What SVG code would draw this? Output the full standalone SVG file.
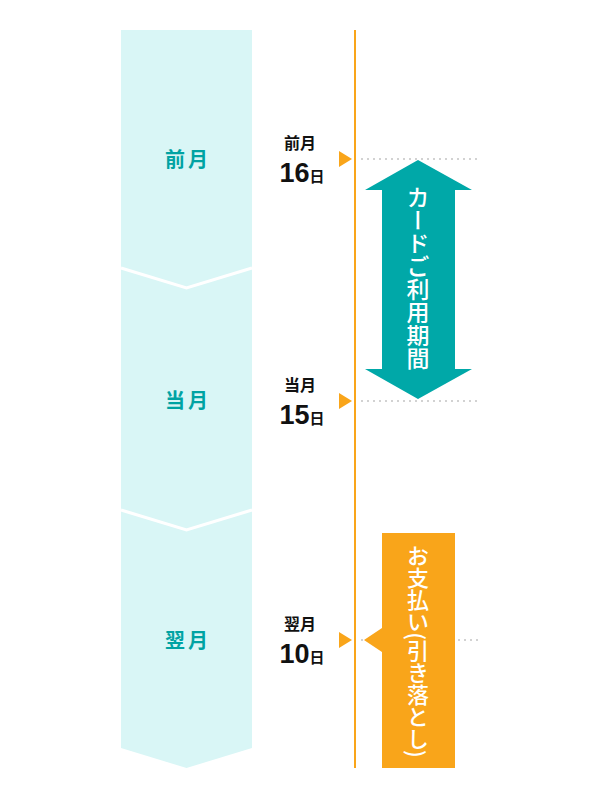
<svg xmlns="http://www.w3.org/2000/svg" width="596" height="799" viewBox="0 0 596 799">
<style>
.month{font-family:"Noto Sans CJK JP","Noto Sans",sans-serif;font-weight:700;font-size:20px;fill:#00a3a3;letter-spacing:3px}
.dl{font-family:"Noto Sans CJK JP","Noto Sans",sans-serif;font-weight:700;fill:#111}
.sm{font-size:15px}
.big{font-family:"Liberation Sans",Arial,sans-serif;font-size:27px}
.vt{font-family:"Noto Sans CJK JP","Noto Sans",sans-serif;font-weight:500;fill:#fff;writing-mode:vertical-rl}
.dot{stroke:#c4c4c4;stroke-width:1.5;stroke-dasharray:2 4;fill:none}
.tri{fill:#f9a51a}
</style>
<rect width="596" height="799" fill="#fff"/>
<g id="column">
<polygon points="121,30 252,30 252,748 186.5,768 121,748" fill="#d9f6f6"/>
<polyline points="121,268 186.5,288 252,268" fill="none" stroke="#fff" stroke-width="3"/>
<polyline points="121,510 186.5,530 252,510" fill="none" stroke="#fff" stroke-width="3"/>
</g>
<g id="month-labels">
<text class="month" x="188" y="167" text-anchor="middle">前月</text>
<text class="month" x="188" y="408" text-anchor="middle">当月</text>
<text class="month" x="188" y="648" text-anchor="middle">翌月</text>
</g>
<g id="connectors">
<line x1="355" y1="30" x2="355" y2="768" stroke="#f9a51a" stroke-width="2"/>
<line class="dot" x1="361" y1="159" x2="478" y2="159"/>
<line class="dot" x1="361" y1="401" x2="478" y2="401"/>
<line class="dot" x1="361" y1="640" x2="376" y2="640"/>
<line class="dot" x1="458" y1="640" x2="478" y2="640"/>
<polygon class="tri" points="339,151 352,159 339,167"/>
<polygon class="tri" points="339,393 352,401 339,409"/>
<polygon class="tri" points="339,632 352,640 339,648"/>
</g>
<g id="date-16">
<text class="dl" x="300" y="149" font-size="16" text-anchor="middle">前月</text>
<text class="dl" x="302" y="182" text-anchor="middle"><tspan class="big">16</tspan><tspan class="sm">日</tspan></text>
</g>
<g id="date-15">
<text class="dl" x="300" y="391" font-size="16" text-anchor="middle">当月</text>
<text class="dl" x="302" y="424" text-anchor="middle"><tspan class="big">15</tspan><tspan class="sm">日</tspan></text>
</g>
<g id="date-10">
<text class="dl" x="300" y="630" font-size="16" text-anchor="middle">翌月</text>
<text class="dl" x="302" y="663" text-anchor="middle"><tspan class="big">10</tspan><tspan class="sm">日</tspan></text>
</g>
<g id="usage-period">
<polygon points="418,160 472,190 455,190 455,369 472,369 418,399 365,369 382,369 382,190 365,190" fill="#00a8a8"/>
<text class="vt" x="418" y="278" font-size="23" text-anchor="middle">カードご利用期間</text>
</g>
<g id="payment">
<polygon points="382,533 455,533 455,768 382,768 382,652 364,640 382,628" fill="#f9a51a"/>
<text class="vt" x="418" y="651" font-size="22" text-anchor="middle">お支払い(引き落とし)</text>
</g>
</svg>
